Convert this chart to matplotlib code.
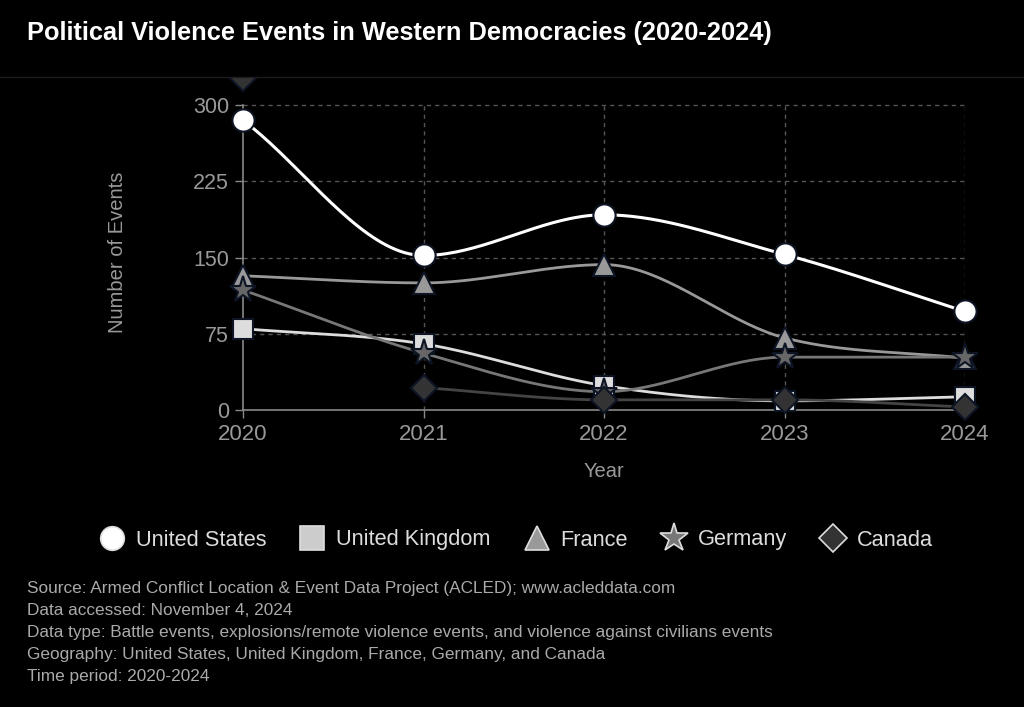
import numpy as np
import matplotlib
matplotlib.use("Agg")
import matplotlib.pyplot as plt
from matplotlib.lines import Line2D
from matplotlib.patches import Rectangle

# data
years = [2020, 2021, 2022, 2023, 2024]
us = [285, 152, 192, 153, 97]
uk = [80, 65, 24, 9, 13]
france = [132, 125, 143, 71, 51]
germany = [118, 56, 18, 52, 52]
canada = [None, 22, 10, 10, 3]
canada_2020 = 327  # off the top of the chart, only half the marker shows

names = ["United States", "United Kingdom", "France", "Germany", "Canada"]
y_ticks = [0, 75, 150, 225, 300]

notes = [
    "Source: Armed Conflict Location & Event Data Project (ACLED); www.acleddata.com",
    "Data accessed: November 4, 2024",
    "Data type: Battle events, explosions/remote violence events, and violence against civilians events",
    "Geography: United States, United Kingdom, France, Germany, and Canada",
    "Time period: 2020-2024",
]


def monotone(xs, ys, n=40):
    # same idea as chart.js cubicInterpolationMode 'monotone'
    x = np.array(xs, float)
    y = np.array(ys, float)
    d = np.diff(y) / np.diff(x)
    m = np.zeros(len(x))
    m[0] = d[0]
    m[-1] = d[-1]
    for k in range(1, len(x) - 1):
        if d[k - 1] == 0 or d[k] == 0 or np.sign(d[k - 1]) != np.sign(d[k]):
            m[k] = 0
        else:
            m[k] = (d[k - 1] + d[k]) / 2
    for k in range(len(d)):
        if d[k] == 0:
            m[k] = m[k + 1] = 0
            continue
        a = m[k] / d[k]
        b = m[k + 1] / d[k]
        s = a * a + b * b
        if s > 9:
            t = 3 / np.sqrt(s)
            m[k] = a * t * d[k]
            m[k + 1] = b * t * d[k]
    px, py = [], []
    for k in range(len(d)):
        h = x[k + 1] - x[k]
        t = np.linspace(0, 1, n)
        h00 = 2 * t**3 - 3 * t**2 + 1
        h10 = t**3 - 2 * t**2 + t
        h01 = -2 * t**3 + 3 * t**2
        h11 = t**3 - t**2
        px.extend(x[k] + t * h)
        py.extend(h00 * y[k] + h10 * h * m[k] + h01 * y[k + 1] + h11 * h * m[k + 1])
    return np.array(px), np.array(py)


fig = plt.figure(figsize=(10.24, 7.07), dpi=100, facecolor="black")
plt.rcParams["font.family"] = ["Liberation Sans", "DejaVu Sans"]

top_val = (410 - 78) / ((410 - 105) / 300)
ax = fig.add_axes([243 / 1024, 297 / 707, 722 / 1024, 332 / 707])
ax.set_facecolor("black")
ax.set_xlim(2020, 2024)
ax.set_ylim(0, top_val)

# grid only up to 300
grid_c = "#555555"
for v in y_ticks[1:]:
    ax.plot([2020, 2024], [v, v], color=grid_c, lw=1, ls=(0, (3, 3)), zorder=1)
for yr in years[1:]:
    ax.plot([yr, yr], [0, 300], color=grid_c, lw=1, ls=(0, (3, 3)), zorder=1)

for s in ["top", "right"]:
    ax.spines[s].set_visible(False)
ax.spines["left"].set_bounds(0, 300)
ax.spines["left"].set_color("#888888")
ax.spines["bottom"].set_color("#888888")
ax.spines["left"].set_linewidth(1.2)
ax.spines["bottom"].set_linewidth(1.2)

ax.set_xticks(years)
ax.set_yticks(y_ticks)
ax.tick_params(colors="#888888", labelcolor="#999999", length=6, width=1)
ax.tick_params(axis="x", pad=4, labelsize=16)
ax.tick_params(axis="y", pad=4, labelsize=15.5)
ax.set_xlabel("Year", color="#999999", fontsize=14.5, labelpad=12)
ax.set_ylabel("Number of Events", color="#999999", fontsize=14.5)
ax.yaxis.set_label_coords(-(243 - 127) / 722, 155 / top_val)

edge = "#0d1424"
styles = [
    (us, "#ffffff", "#ffffff", "o", 16, 2.2),
    (uk, "#dddddd", "#dddddd", "s", 15, 2.0),
    (france, "#999999", "#999999", "^", 16, 2.0),
    (germany, "#777777", "#666666", "*", 20, 2.0),
    (canada, "#444444", "#333333", "D", 13, 2.0),
]

for i, (vals, lc, mc, mk, ms, lw) in enumerate(styles):
    xs = [yr for yr, v in zip(years, vals) if v is not None]
    ys = [v for v in vals if v is not None]
    sx, sy = monotone(xs, ys)
    ax.plot(sx, sy, color=lc, lw=lw, zorder=3 + i, solid_capstyle="round")
    ax.plot(xs, ys, ls="none", marker=mk, ms=ms, mfc=mc, mec=edge, mew=1.5,
            zorder=10 + i, clip_on=False)

# the 2020 canada point sits above the chart area, cut at its top edge
cut = Rectangle((0, 0), 1, 1 - 78 / 707, transform=fig.transFigure, facecolor="none")
top_mark, = ax.plot([2020], [canada_2020], ls="none", marker="D", ms=13, mfc="#333333",
                    mec=edge, mew=1.5, zorder=15, clip_on=True)
top_mark.set_clip_path(cut)

# faint separator under the header
fig.add_artist(Line2D([0, 1], [1 - 77 / 707, 1 - 77 / 707], color="#1c1c1c", lw=1))

fig.text(27 / 1024, 1 - 33 / 707, "Political Violence Events in Western Democracies (2020-2024)",
         color="white", fontsize=18.3, fontweight="bold", va="center", ha="left")

handles = []
leg_styles = [
    ("o", "#ffffff", "#dddddd"),
    ("s", "#cccccc", "#dddddd"),
    ("^", "#999999", "#dddddd"),
    ("*", "#777777", "#dddddd"),
    ("D", "#333333", "#dddddd"),
]
for name, (mk, fc, ec) in zip(names, leg_styles):
    sz = 21 if mk == "*" else 17
    if mk == "D":
        sz = 14
    handles.append(Line2D([], [], ls="none", marker=mk, ms=sz, mfc=fc, mec=ec, mew=1.2, label=name))
leg = fig.legend(handles=handles, loc="center", bbox_to_anchor=(516 / 1024, 1 - 540 / 707),
                 ncol=5, frameon=False, fontsize=15.7, labelcolor="#dddddd",
                 handletextpad=0.5, columnspacing=1.5, handlelength=1.2)

for i, line in enumerate(notes):
    fig.text(27 / 1024, 1 - (589 + i * 21.8) / 707, line, color="#aaaaaa",
             fontsize=12.4, va="center", ha="left")

fig.savefig("out.png", dpi=100, facecolor="black")
